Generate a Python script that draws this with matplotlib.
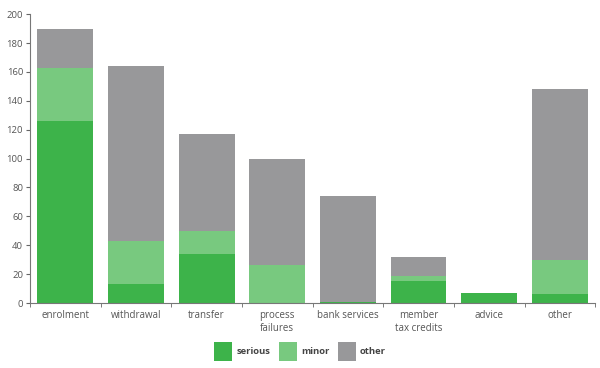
import numpy as np
import matplotlib.pyplot as plt

categories = ["enrolment", "withdrawal", "transfer", "process\nfailures",
              "bank services", "member\ntax credits", "advice", "other"]
serious = [126, 13, 34, 0, 1, 15, 7, 6]
minor = [37, 30, 16, 26, 0, 4, 0, 24]
other = [27, 121, 67, 74, 73, 13, 0, 118]

c_serious = "#3db34a"
c_minor = "#78c97f"
c_other = "#98989a"
txt = "#555555"

plt.rcParams['font.family'] = ['Open Sans', 'DejaVu Sans']

fig = plt.figure(figsize=(6, 3.68), dpi=100)
ax = fig.add_axes([0.05, 0.1766, 0.942, 0.785])

x = np.arange(len(categories))
s = np.array(serious)
m = np.array(minor)
o = np.array(other)
ax.bar(x, s, width=0.79, color=c_serious, label="serious")
ax.bar(x, m, width=0.79, bottom=s, color=c_minor, label="minor")
ax.bar(x, o, width=0.79, bottom=s + m, color=c_other, label="other")

ax.set_xlim(-0.5, len(categories) - 0.5)
ax.set_ylim(0, 200)
ax.set_yticks(np.arange(0, 201, 20))
ax.set_xticks(x)
ax.set_xticklabels(categories, fontsize=7, color=txt, linespacing=1.25)
ax.set_xticks(np.arange(-0.5, len(categories)), minor=True)
ax.tick_params(axis="x", which="major", length=0, pad=5)
ax.tick_params(axis="x", which="minor", length=3, direction="out", color="#666666")
ax.tick_params(axis="y", labelsize=6.8, labelcolor=txt, length=3, color="#666666", pad=2)

for side in ["top", "right"]:
    ax.spines[side].set_visible(False)
for side in ["left", "bottom"]:
    ax.spines[side].set_color("#777777")
    ax.spines[side].set_linewidth(0.8)

leg = fig.legend(loc="center", bbox_to_anchor=(0.5, 0.045), ncol=3, frameon=False,
                 fontsize=6.8, handlelength=1.9, handleheight=2.8, handletextpad=0.45,
                 columnspacing=0.9)
for t in leg.get_texts():
    t.set_color("#444444")
    t.set_fontweight("bold")

fig.savefig("out.png", dpi=100)
